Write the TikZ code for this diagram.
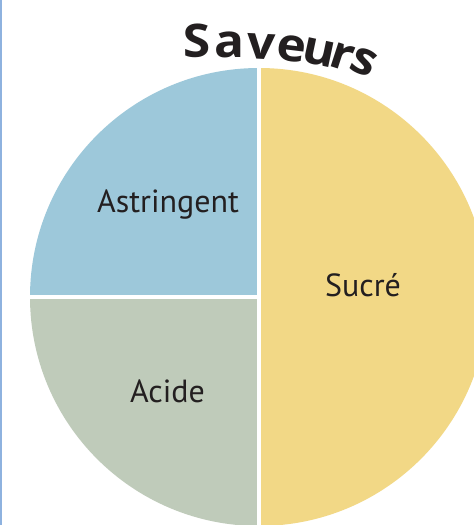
\documentclass[tikz,border=0pt]{standalone}
\usepackage{fontspec}
\setmainfont{PT Sans}
\newfontfamily\titlefont[BoldFeatures={FakeStretch=1.08}]{Open Sans}
\definecolor{pieblue}{HTML}{9DC8DA}
\definecolor{piegreen}{HTML}{BFCBBA}
\definecolor{pieyellow}{HTML}{F2D886}
\definecolor{ink}{HTML}{231F20}
\definecolor{edgeblue}{HTML}{8EB2DF}
\tikzset{
  lab/.style={text=ink, font=\fontsize{32}{36}\selectfont, anchor=base, inner sep=0pt},
  ttl/.style={text=ink, font=\titlefont\fontsize{46}{50}\selectfont\bfseries, anchor=base, inner sep=0pt},
  divider/.style={white, line width=3.5pt}
}
\begin{document}
\begin{tikzpicture}[x=1pt,y=1pt]
\useasboundingbox (0,0) rectangle (474,525);
\clip (0,0) rectangle (474,525);
\fill[white] (0,0) rectangle (474,525);
\fill[edgeblue] (0,0) rectangle (1.6,525);
\coordinate (c) at (259,228);
\fill[pieyellow] (c) -- (259,457) arc[start angle=90, end angle=-90, radius=229] -- cycle;
\fill[pieblue] (c) -- (259,457) arc[start angle=90, end angle=180, radius=229] -- cycle;
\fill[piegreen] (c) -- (30,228) arc[start angle=180, end angle=270, radius=229] -- cycle;
\coordinate (top) at (259,458);
\coordinate (bot) at (259,-2);
\coordinate (lft) at (29,228);
\draw[divider] (top) -- (bot);
\draw[divider] (lft) -- (c);
\node[lab] (astr) at (168,312) {Astringent};
\node[lab] (acid) at (167.5,122) {Acide};
\node[lab] (sucr) at (363,228) {Sucré};
\node[ttl, rotate=1] (t1) at (197,468) {S};
\node[ttl, rotate=0] (t2) at (230,467) {a};
\node[ttl, rotate=-3] (t3) at (261,466) {v};
\node[ttl, rotate=-7] (t4) at (290,464) {e};
\node[ttl, rotate=-12] (t5) at (316,460) {u};
\node[ttl, rotate=-18] (t6) at (338,456) {r};
\node[ttl, rotate=-24] (t7) at (359,451) {s};
\end{tikzpicture}
\end{document}
